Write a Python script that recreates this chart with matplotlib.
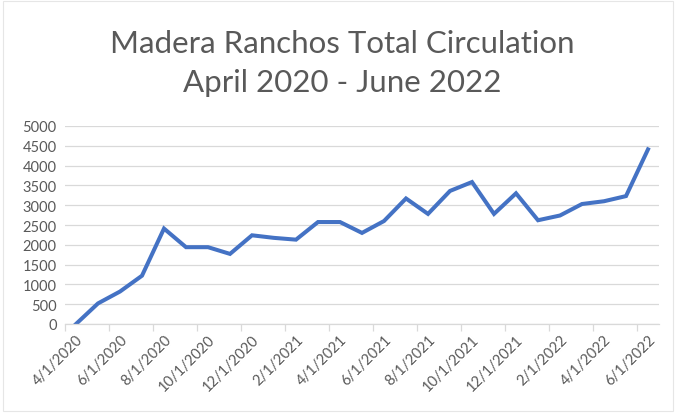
import matplotlib
matplotlib.use("Agg")
import matplotlib.pyplot as plt
from matplotlib.patches import Rectangle

# monthly circulation, April 2020 .. June 2022
months = [
    "4/1/2020", "5/1/2020", "6/1/2020", "7/1/2020", "8/1/2020", "9/1/2020",
    "10/1/2020", "11/1/2020", "12/1/2020", "1/1/2021", "2/1/2021", "3/1/2021",
    "4/1/2021", "5/1/2021", "6/1/2021", "7/1/2021", "8/1/2021", "9/1/2021",
    "10/1/2021", "11/1/2021", "12/1/2021", "1/1/2022", "2/1/2022", "3/1/2022",
    "4/1/2022", "5/1/2022", "6/1/2022",
]
circulation = [
    0, 520, 820, 1220, 2410, 1940,
    1940, 1770, 2240, 2175, 2130, 2575,
    2575, 2300, 2600, 3170, 2780, 3360,
    3585, 2780, 3300, 2620, 2740, 3030,
    3100, 3230, 4410,
]
yticks = [0, 500, 1000, 1500, 2000, 2500, 3000, 3500, 4000, 4500, 5000]

TEXT = "#595959"
GRID = "#d9d9d9"
LINE = "#4472c4"

plt.rcParams["font.family"] = ["Lato", "DejaVu Sans"]

fig = plt.figure(figsize=(6.76, 4.14), dpi=100)
fig.patches.append(Rectangle((0.004, 0.004), 0.992, 0.99, transform=fig.transFigure,
                             fill=False, edgecolor="#e6e6e6", linewidth=0.8))

ax = fig.add_axes([65 / 676, 1 - 325 / 414, (659 - 65) / 676, (325 - 127) / 414])
x = list(range(len(months)))
ax.plot(x, circulation, color=LINE, linewidth=2.9, solid_joinstyle="miter")

ax.set_xlim(-0.5, len(months) - 0.5)
ax.set_ylim(0, 5000)
ax.set_yticks(yticks)
ax.set_yticklabels([str(v) for v in yticks], fontsize=10.5, color=TEXT)
ax.yaxis.grid(True, color=GRID, linewidth=0.9)
ax.set_axisbelow(True)
ax.tick_params(axis="y", length=0, pad=6)

# labels every 2 months at the data points, tick marks between categories
ax.set_xticks(x[::2])
ax.set_xticklabels(months[::2], rotation=45, ha="right", rotation_mode="anchor",
                   fontsize=10.5, color=TEXT)
ax.tick_params(axis="x", length=0, pad=6)
ax.set_xticks([i - 0.5 for i in x[::2]], minor=True)
ax.tick_params(axis="x", which="minor", length=5, color=GRID, width=0.9)

for side in ["top", "right", "left"]:
    ax.spines[side].set_visible(False)
ax.spines["bottom"].set_color(GRID)
ax.spines["bottom"].set_linewidth(0.9)

fig.text(0.506, 1 - 44 / 414, "Madera Ranchos Total Circulation", ha="center", va="center",
         fontsize=22.5, color=TEXT)
fig.text(0.506, 1 - 83 / 414, "April 2020 - June 2022", ha="center", va="center",
         fontsize=22.5, color=TEXT)

fig.savefig("out.png", dpi=100, facecolor="white")
